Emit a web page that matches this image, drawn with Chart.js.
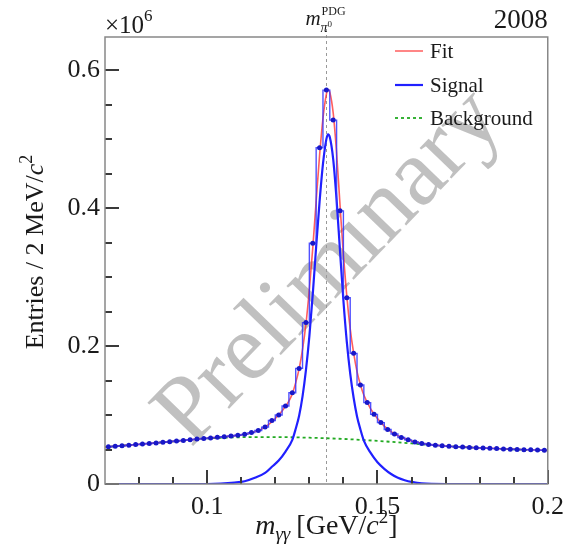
<!DOCTYPE html>
<html>
<head>
<meta charset="utf-8">
<script src="https://cdn.jsdelivr.net/npm/chart.js@4.4.1/dist/chart.umd.min.js"></script>
<style>
  html, body { margin: 0; padding: 0; background: #fff; }
  #wrap { width: 572px; height: 556px; position: relative; }
</style>
</head>
<body>
<div id="wrap"><canvas id="pi0-mass-canvas"></canvas></div>
<script>
// values in units of 10^6 entries per 2 MeV bin
const binCenters = [
  0.071, 0.073, 0.075, 0.077, 0.079, 0.081, 0.083, 0.085, 0.087, 0.089,
  0.091, 0.093, 0.095, 0.097, 0.099, 0.101, 0.103, 0.105, 0.107, 0.109,
  0.111, 0.113, 0.115, 0.117, 0.119, 0.121, 0.123, 0.125, 0.127, 0.129,
  0.131, 0.133, 0.135, 0.137, 0.139, 0.141, 0.143, 0.145, 0.147, 0.149,
  0.151, 0.153, 0.155, 0.157, 0.159, 0.161, 0.163, 0.165, 0.167, 0.169,
  0.171, 0.173, 0.175, 0.177, 0.179, 0.181, 0.183, 0.185, 0.187, 0.189,
  0.191, 0.193, 0.195, 0.197, 0.199
];
const entries = [
  0.0540, 0.0548, 0.0555, 0.0563, 0.0571, 0.0579, 0.0587, 0.0596, 0.0605, 0.0614,
  0.0623, 0.0632, 0.0641, 0.0651, 0.0660, 0.0668, 0.0676, 0.0685, 0.0695, 0.0706,
  0.0720, 0.0745, 0.0775, 0.0825, 0.0920, 0.1000, 0.1130, 0.1322, 0.1676, 0.2340,
  0.3490, 0.4875, 0.5710, 0.5275, 0.3960, 0.2700, 0.1894, 0.1435, 0.1180, 0.1010,
  0.0890, 0.0790, 0.0725, 0.0675, 0.0640, 0.0610, 0.0588, 0.0572, 0.0561, 0.0553,
  0.0546, 0.0540, 0.0535, 0.0530, 0.0525, 0.0521, 0.0517, 0.0513, 0.0509, 0.0505,
  0.0501, 0.0498, 0.0495, 0.0492, 0.0489
];

const fitX = [
  0.070, 0.080, 0.090, 0.100, 0.105, 0.110, 0.113, 0.116, 0.118, 0.120,
  0.122, 0.124, 0.125, 0.126, 0.127, 0.128, 0.129, 0.130, 0.131, 0.132,
  0.133, 0.134, 0.135, 0.1355, 0.136, 0.137, 0.138, 0.139, 0.140, 0.141,
  0.142, 0.143, 0.144, 0.145, 0.146, 0.148, 0.150, 0.152, 0.154, 0.156,
  0.158, 0.160, 0.163, 0.166, 0.170, 0.180, 0.190, 0.200
];
const fitY = [
  0.0536, 0.0575, 0.0618, 0.0664, 0.0685, 0.0712, 0.0742, 0.0795, 0.0860, 0.0950,
  0.1060, 0.1200, 0.1310, 0.1470, 0.1670, 0.1950, 0.2320, 0.2820, 0.3420, 0.4100,
  0.4760, 0.5300, 0.5650, 0.5720, 0.5680, 0.5380, 0.4800, 0.4050, 0.3320, 0.2720,
  0.2250, 0.1900, 0.1630, 0.1440, 0.1290, 0.1090, 0.0950, 0.0840, 0.0760, 0.0700,
  0.0658, 0.0625, 0.0590, 0.0567, 0.0550, 0.0523, 0.0503, 0.0487
];

const signalX = [
  0.070, 0.100, 0.104, 0.108, 0.111, 0.114, 0.117, 0.119, 0.121, 0.123,
  0.125, 0.126, 0.127, 0.128, 0.129, 0.130, 0.131, 0.132, 0.133, 0.134,
  0.135, 0.1355, 0.136, 0.137, 0.138, 0.139, 0.140, 0.141, 0.142, 0.143,
  0.144, 0.145, 0.146, 0.148, 0.150, 0.152, 0.154, 0.156, 0.158, 0.160,
  0.163, 0.170, 0.200
];
const signalY = [
  0, 0, 0.0005, 0.002, 0.004, 0.009, 0.016, 0.025, 0.034, 0.047,
  0.064, 0.080, 0.099, 0.127, 0.165, 0.214, 0.275, 0.344, 0.409, 0.464,
  0.500, 0.507, 0.503, 0.471, 0.412, 0.338, 0.266, 0.206, 0.160, 0.125,
  0.098, 0.079, 0.063, 0.045, 0.0315, 0.022, 0.0145, 0.009, 0.0055, 0.003,
  0.0008, 0, 0
];

const backgroundX = [0.070, 0.080, 0.090, 0.100, 0.105, 0.110, 0.120, 0.130, 0.140, 0.150, 0.160, 0.170, 0.180, 0.190, 0.200];
const backgroundY = [0.0536, 0.0575, 0.0618, 0.0660, 0.0672, 0.0678, 0.0680, 0.0671, 0.0653, 0.0625, 0.0588, 0.0550, 0.0522, 0.0502, 0.0486];

const pdgMass = 0.135;

const xMajorTicks = [0.1, 0.15, 0.2];
const xTickLabels = ["0.1", "0.15", "0.2"];
const xMinorTicks = [0.08, 0.09, 0.11, 0.12, 0.13, 0.14, 0.16, 0.17, 0.18, 0.19];
const yMajorTicks = [0, 0.2, 0.4, 0.6];
const yTickLabels = ["0", "0.2", "0.4", "0.6"];
const yMinorTicks = [0.05, 0.1, 0.15, 0.25, 0.3, 0.35, 0.45, 0.5, 0.55];

const seriesNames = ["Fit", "Signal", "Background"];

const serif = "'Liberation Serif', 'DejaVu Serif', serif";
const font = (size, italic) => `${italic ? "italic " : ""}${size}px ${serif}`;

const pairs = (xs, ys) => xs.map((x, i) => ({ x, y: ys[i] }));

// draw a row of text pieces (italic, sub/superscripts)
function drawRuns(ctx, runs, x, y, align) {
  let total = 0;
  runs.forEach(r => {
    ctx.font = font(r.size, r.italic);
    r.w = ctx.measureText(r.text).width;
    total += r.w + (r.gap || 0);
  });
  let cx = align === "center" ? x - total / 2 : align === "right" ? x - total : x;
  ctx.textAlign = "left";
  ctx.textBaseline = "alphabetic";
  runs.forEach(r => {
    ctx.font = font(r.size, r.italic);
    ctx.fillText(r.text, cx, y + (r.dy || 0));
    cx += r.w + (r.gap || 0);
  });
}

const backdropPlugin = {
  id: "backdrop",
  beforeDatasetsDraw(chart) {
    const { ctx, chartArea: a, scales } = chart;
    ctx.save();
    // watermark
    ctx.translate(330, 268);
    ctx.rotate(-Math.atan2(290, 280));
    ctx.font = font(96, false);
    ctx.fillStyle = "rgba(165, 165, 165, 0.7)";
    ctx.textAlign = "center";
    ctx.textBaseline = "middle";
    ctx.fillText("Preliminary", 0, 0);
    ctx.restore();

    // PDG mass line
    const px = Math.round(scales.x.getPixelForValue(pdgMass)) + 0.5;
    ctx.save();
    ctx.strokeStyle = "#999";
    ctx.lineWidth = 1;
    ctx.setLineDash([3, 3]);
    ctx.beginPath();
    ctx.moveTo(px, 29);
    ctx.lineTo(px, a.bottom);
    ctx.stroke();
    ctx.restore();
  }
};

// ROOT style frame with ticks pointing inwards
const frameTicksPlugin = {
  id: "frameTicks",
  afterDraw(chart) {
    const { ctx, chartArea: a, scales } = chart;
    ctx.save();
    ctx.fillStyle = "#3a3a3a";
    for (const v of xMajorTicks.concat(xMinorTicks)) {
      const px = Math.round(scales.x.getPixelForValue(v));
      const len = xMajorTicks.includes(v) ? 14 : 7;
      ctx.fillRect(px - 1, a.bottom - len, 2, len);
    }
    for (const v of yMajorTicks.concat(yMinorTicks)) {
      const py = Math.round(scales.y.getPixelForValue(v));
      const len = yMajorTicks.includes(v) ? 14 : 7;
      ctx.fillRect(a.left, py - 1, len, 2);
    }
    ctx.strokeStyle = "#888";
    ctx.lineWidth = 1.5;
    ctx.strokeRect(a.left, a.top, a.right - a.left, a.bottom - a.top);
    ctx.restore();
  }
};

const labelsPlugin = {
  id: "labels",
  afterDraw(chart) {
    const { ctx, chartArea: a, scales } = chart;
    ctx.save();
    ctx.fillStyle = "#1a1a1a";

    // x10^6
    drawRuns(ctx, [
      { text: "\u00d710", size: 25 },
      { text: "6", size: 17, dy: -12 }
    ], a.left, 33, "left");

    // year
    ctx.font = font(27, false);
    ctx.textAlign = "right";
    ctx.textBaseline = "alphabetic";
    ctx.fillText("2008", a.right, 28);

    // m_pi0^PDG
    const mx = scales.x.getPixelForValue(pdgMass);
    ctx.font = font(21, true);
    ctx.textAlign = "left";
    const mw = ctx.measureText("m").width;
    const m0 = mx - 21;
    ctx.fillText("m", m0, 25);
    ctx.font = font(12, false);
    ctx.fillText("PDG", m0 + mw + 1, 15);
    ctx.font = font(14, true);
    ctx.fillText("\u03c0", m0 + mw, 32);
    const piw = ctx.measureText("\u03c0").width;
    ctx.font = font(9, false);
    ctx.fillText("0", m0 + mw + piw, 27);

    // y title
    ctx.save();
    ctx.translate(43, 252);
    ctx.rotate(-Math.PI / 2);
    drawRuns(ctx, [
      { text: "Entries / 2 MeV/", size: 26 },
      { text: "c", size: 26, italic: true },
      { text: "2", size: 18, dy: -11 }
    ], 0, 0, "center");
    ctx.restore();

    // x title
    drawRuns(ctx, [
      { text: "m", size: 28, italic: true },
      { text: "\u03b3\u03b3", size: 19, italic: true, dy: 6, gap: 6 },
      { text: "[GeV/", size: 28 },
      { text: "c", size: 28, italic: true },
      { text: "2", size: 19, dy: -11 },
      { text: "]", size: 28 }
    ], (a.left + a.right) / 2, 534, "center");

    // legend
    const legend = [
      { y: 51, color: "rgba(255, 40, 40, 0.75)", width: 1.5, dash: [] },
      { y: 85, color: "#2020ff", width: 2.2, dash: [] },
      { y: 118, color: "#22aa22", width: 1.8, dash: [3, 3] }
    ];
    legend.forEach((item, i) => {
      ctx.strokeStyle = item.color;
      ctx.lineWidth = item.width;
      ctx.setLineDash(item.dash);
      ctx.beginPath();
      ctx.moveTo(395, item.y);
      ctx.lineTo(423, item.y);
      ctx.stroke();
      ctx.setLineDash([]);
      ctx.font = font(21, false);
      ctx.textAlign = "left";
      ctx.fillStyle = "#1a1a1a";
      ctx.fillText(seriesNames[i], 430, item.y + 7);
    });
    ctx.restore();
  }
};

new Chart(document.getElementById("pi0-mass-canvas"), {
  type: "scatter",
  data: {
    datasets: [
      {
        label: "Data",
        data: pairs(binCenters, entries),
        pointRadius: 2.5,
        pointBackgroundColor: "#1818c8",
        pointBorderWidth: 0,
        showLine: false,
        order: 0
      },
      {
        label: "Histogram",
        data: pairs(binCenters, entries),
        showLine: true,
        stepped: "middle",
        borderColor: "rgba(50, 50, 255, 0.85)",
        borderWidth: 1.4,
        pointRadius: 0,
        order: 1
      },
      {
        label: seriesNames[0],
        data: pairs(fitX, fitY),
        showLine: true,
        cubicInterpolationMode: "monotone",
        borderColor: "rgba(255, 40, 40, 0.75)",
        borderWidth: 1.6,
        pointRadius: 0,
        order: 2
      },
      {
        label: seriesNames[1],
        data: pairs(signalX, signalY),
        showLine: true,
        cubicInterpolationMode: "monotone",
        borderColor: "#2020ff",
        borderWidth: 2.2,
        pointRadius: 0,
        order: 3
      },
      {
        label: seriesNames[2],
        data: pairs(backgroundX, backgroundY),
        showLine: true,
        cubicInterpolationMode: "monotone",
        borderColor: "#22aa22",
        borderWidth: 1.8,
        borderDash: [3, 3],
        pointRadius: 0,
        order: 4
      }
    ]
  },
  options: {
    responsive: true,
    maintainAspectRatio: false,
    animation: false,
    devicePixelRatio: 1,
    layout: { padding: { top: 37, right: 20, left: 0, bottom: 0 } },
    scales: {
      x: {
        type: "linear",
        min: 0.07,
        max: 0.2,
        grid: { display: false, drawTicks: false },
        border: { display: false },
        afterFit: s => { s.height = 72; },
        afterBuildTicks: s => { s.ticks = xMajorTicks.map(v => ({ value: v })); },
        ticks: {
          autoSkip: false,
          maxRotation: 0,
          padding: 8,
          color: "#1a1a1a",
          font: { family: serif, size: 26 },
          callback: v => xTickLabels[xMajorTicks.indexOf(v)]
        }
      },
      y: {
        min: 0,
        max: 0.648,
        grid: { display: false, drawTicks: false },
        border: { display: false },
        afterFit: s => { s.width = 105; },
        afterBuildTicks: s => { s.ticks = yMajorTicks.map(v => ({ value: v })); },
        ticks: {
          padding: 5,
          color: "#1a1a1a",
          font: { family: serif, size: 26 },
          callback: v => yTickLabels[yMajorTicks.indexOf(v)]
        }
      }
    },
    plugins: {
      legend: { display: false },
      tooltip: { enabled: false }
    }
  },
  plugins: [backdropPlugin, frameTicksPlugin, labelsPlugin]
});
</script>
</body>
</html>
